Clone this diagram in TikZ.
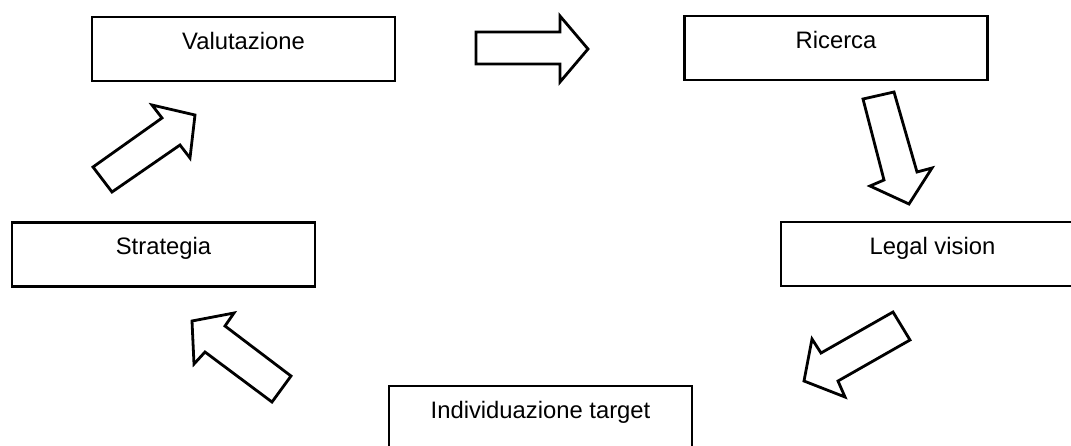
\documentclass[tikz,border=0pt]{standalone}
\usepackage{fontspec}
\setmainfont{Liberation Sans}
\begin{document}
\begin{tikzpicture}[x=1pt,y=-1pt,
  stagebox/.style={draw=black,line width=2.8pt,fill=white,rectangle,inner sep=0pt,
    minimum width=303pt,text height=32pt,text depth=32pt,font=\fontsize{23.8}{28}\selectfont},
  blockarrow/.style={draw=black,line width=2.8pt,line join=miter,fill=white}]
\useasboundingbox (0,0) rectangle (1071,445);
\node[stagebox] (val) at (243.5,49) {Valutazione};
\node[stagebox] (ric) at (836,48) {Ricerca};
\node[stagebox] (str) at (163.5,254.5) {Strategia};
\node[stagebox] (leg) at (932.5,254) {Legal vision};
\node[stagebox] (ind) at (540.5,418) {Individuazione target};
% block arrows
\draw[blockarrow] (476,32) -- (560,32) -- (560,16) -- (588,49) -- (560,82) -- (560,64) -- (476,64) -- cycle;
\draw[blockarrow] (863,99) -- (894,92) -- (917,172) -- (932,168) -- (909,204) -- (870,186) -- (884,180) -- cycle;
\draw[blockarrow] (893,312) -- (910,340) -- (838,381) -- (845,397) -- (804,381) -- (812,339) -- (821,353) -- cycle;
\draw[blockarrow] (291,376) -- (272,402) -- (205,352) -- (194,364) -- (192,321) -- (234,313) -- (225,326) -- cycle;
\draw[blockarrow] (93,167) -- (112,192) -- (180,145) -- (190,158) -- (195,115) -- (152,105) -- (162,118) -- cycle;
\end{tikzpicture}
\end{document}
